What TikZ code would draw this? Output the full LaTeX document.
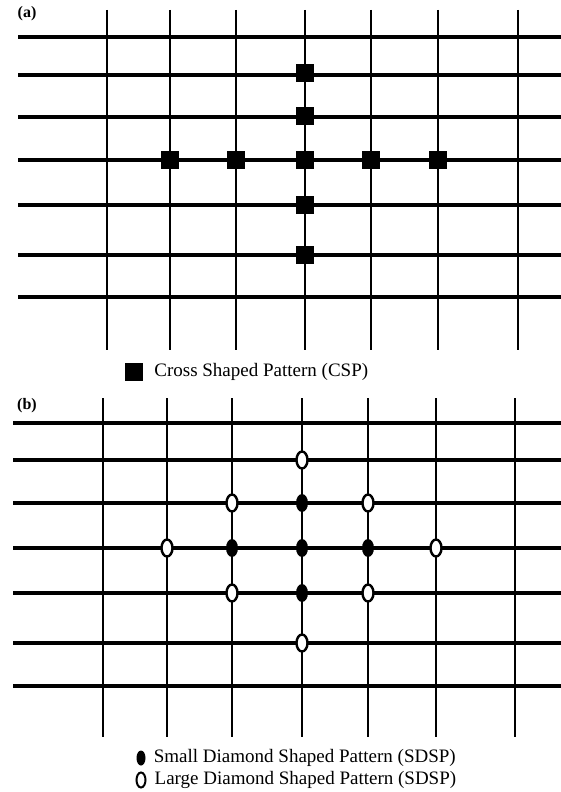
\documentclass[tikz,border=0pt]{standalone}
\usepackage{fontspec}
\setmainfont{Liberation Serif}
\usetikzlibrary{positioning,shapes.geometric}

\begin{document}
\begin{tikzpicture}[x=1pt,y=-1pt,
  vline/.style={line width=2.9pt},
  hline/.style={line width=3.3pt},
  sq/.style={fill=black,minimum width=18pt,minimum height=18pt,inner sep=0pt},
  sdsp/.style={ellipse,fill=black,minimum width=12pt,minimum height=18pt,inner sep=0pt},
  ldsp/.style={ellipse,draw,line width=2.4pt,fill=white,minimum width=11pt,minimum height=17pt,inner sep=0pt},
  keytext/.style={font=\fontsize{19}{21}\selectfont,inner sep=0pt,anchor=west},
  panel/.style={font=\fontsize{16}{18}\selectfont\bfseries,inner sep=0pt}]
\useasboundingbox (0,0) rectangle (561,792);
\fill[white] (0,0) rectangle (561,792);
% (a)
\node[panel] (la) at (27,14) {(a)};
\foreach \x in {107,170,236,305,371,438,518} \draw[vline] (\x,10) -- (\x,350);
\foreach \y in {37,75,117,160,205,255,297} \draw[hline] (18,\y) -- (561,\y);
\node[sq] (c1) at (305,73) {};
\node[sq] (c2) at (305,116) {};
\node[sq] (c3) at (170,160) {};
\node[sq] (c4) at (236,160) {};
\node[sq] (c0) at (305,160) {};
\node[sq] (c5) at (371,160) {};
\node[sq] (c6) at (438,160) {};
\node[sq] (c7) at (305,205) {};
\node[sq] (c8) at (305,255) {};
\node[sq] (keya) at (134,372) {};
\node[keytext,right=11pt of keya] (csp) {Cross Shaped Pattern (CSP)};
% (b)
\node[panel] (lb) at (27,406) {(b)};
\foreach \x in {103,167,232,302,368,436,515} \draw[vline] (\x,398) -- (\x,737);
\foreach \y in {423,460,503,548,593,643,686} \draw[hline] (13,\y) -- (561,\y);
\node[ldsp] (l1) at (302,460) {};
\node[ldsp] (l2) at (232,503) {};
\node[ldsp] (l3) at (368,503) {};
\node[ldsp] (l4) at (167,548) {};
\node[ldsp] (l5) at (436,548) {};
\node[ldsp] (l6) at (232,593) {};
\node[ldsp] (l7) at (368,593) {};
\node[ldsp] (l8) at (302,643) {};
\node[sdsp] (s1) at (302,503) {};
\node[sdsp] (s2) at (232,548) {};
\node[sdsp] (s0) at (302,548) {};
\node[sdsp] (s3) at (368,548) {};
\node[sdsp] (s4) at (302,593) {};
\node[sdsp,minimum width=9pt,minimum height=15pt] (keys) at (141,758) {};
\node[ldsp,line width=2pt,minimum width=9pt,minimum height=15pt] (keyl) at (141,780) {};
\node[keytext,right=8pt of keys] (small) {Small Diamond Shaped Pattern (SDSP)};
\node[keytext,right=8pt of keyl] (large) {Large Diamond Shaped Pattern (SDSP)};
\end{tikzpicture}
\end{document}
